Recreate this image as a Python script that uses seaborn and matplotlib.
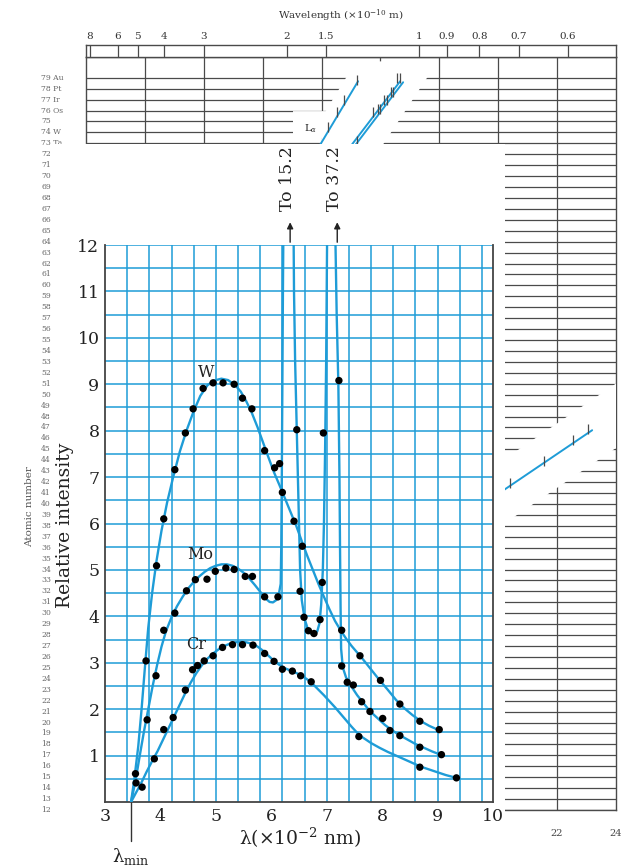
import numpy as np
import pandas as pd
import matplotlib
matplotlib.use("Agg")
import matplotlib.pyplot as plt
import seaborn as sns
from matplotlib.patches import Rectangle
from matplotlib.transforms import blended_transform_factory

# ---------------- data: main chart ----------------
w_pts_x = [3.55, 3.74, 3.93, 4.06, 4.26, 4.45, 4.59, 4.77, 4.95, 5.13, 5.33, 5.48, 5.65,
           5.88, 6.06, 6.15, 6.20, 6.41, 6.56, 6.92, 7.27, 7.60, 7.97, 8.32, 8.68, 9.03]
w_pts_y = [0.61, 3.04, 5.09, 6.10, 7.16, 7.95, 8.47, 8.91, 9.03, 9.03, 9.00, 8.70, 8.47,
           7.57, 7.20, 7.29, 6.67, 6.05, 5.51, 4.73, 3.70, 3.15, 2.62, 2.11, 1.74, 1.56]

mo_pts_x = [3.56, 3.76, 3.92, 4.06, 4.26, 4.47, 4.63, 4.84, 4.99, 5.18, 5.33, 5.53, 5.66,
            5.88, 6.12, 6.46, 6.52, 6.59, 6.67, 6.77, 6.88, 6.94, 7.22, 7.27, 7.37, 7.48,
            7.63, 7.78, 8.01, 8.14, 8.32, 8.68, 9.07]
mo_pts_y = [0.41, 1.77, 2.72, 3.70, 4.07, 4.55, 4.79, 4.80, 4.97, 5.04, 5.01, 4.86, 4.86,
            4.42, 4.42, 8.02, 4.54, 3.98, 3.69, 3.63, 3.93, 7.95, 9.08, 2.93, 2.58, 2.52,
            2.16, 1.95, 1.80, 1.54, 1.43, 1.18, 1.02]

cr_pts_x = [3.67, 3.89, 4.06, 4.23, 4.45, 4.58, 4.67, 4.79, 4.95, 5.12, 5.30, 5.48, 5.67,
            5.88, 6.05, 6.20, 6.38, 6.53, 6.72, 7.58, 8.68, 9.34]
cr_pts_y = [0.32, 0.93, 1.56, 1.82, 2.41, 2.85, 2.94, 3.04, 3.15, 3.33, 3.39, 3.39, 3.38,
            3.20, 3.03, 2.86, 2.82, 2.72, 2.59, 1.41, 0.75, 0.52]

# traced curves
w_cx = [3.47, 3.53, 3.60, 3.66, 3.72, 3.78, 3.85, 3.93, 4.02, 4.12, 4.23, 4.35, 4.47, 4.60,
        4.72, 4.85, 4.97, 5.10, 5.22, 5.35, 5.45, 5.55, 5.65, 5.75, 5.85, 5.95, 6.05,
        6.15, 6.25, 6.35, 6.45, 6.55, 6.65, 6.75, 6.85, 6.95, 7.05, 7.15, 7.25, 7.35, 7.45,
        7.55, 7.65, 7.75, 7.85, 7.95, 8.10, 8.25, 8.40, 8.55, 8.70, 8.85, 9.00]
w_cy = [0.00, 0.50, 1.20, 2.00, 2.90, 3.75, 4.50, 5.20, 5.85, 6.45, 7.00, 7.55, 8.00, 8.42,
        8.75, 8.98, 9.08, 9.12, 9.09, 8.98, 8.84, 8.63, 8.38, 8.08, 7.75, 7.42, 7.10,
        6.82, 6.53, 6.24, 5.95, 5.62, 5.30, 5.00, 4.70, 4.42, 4.15, 3.90, 3.70, 3.52, 3.36,
        3.22, 3.08, 2.93, 2.78, 2.63, 2.42, 2.20, 2.02, 1.87, 1.74, 1.64, 1.56]

mo_cx = [3.47, 3.55, 3.62, 3.70, 3.78, 3.86, 3.94, 4.02, 4.10, 4.20, 4.30, 4.40, 4.50, 4.60,
         4.70, 4.80, 4.90, 5.00, 5.10, 5.20, 5.30, 5.40, 5.50, 5.60, 5.70, 5.80, 5.90, 5.97,
         6.03, 6.09, 6.14, 6.17, 6.18, 6.19, 6.20, 6.21, 6.22, 6.40, 6.41, 6.43, 6.46, 6.49,
         6.52, 6.55, 6.60, 6.66, 6.72, 6.78, 6.83, 6.87, 6.90, 6.93, 6.95, 6.97, 6.99, 7.01,
         7.15, 7.18, 7.21, 7.23, 7.24, 7.25, 7.26, 7.29, 7.35, 7.45, 7.55, 7.65, 7.75, 7.85,
         7.95, 8.05, 8.15, 8.30, 8.45, 8.60, 8.75, 8.90, 9.05]
mo_cy = [0.00, 0.45, 0.95, 1.50, 2.00, 2.50, 2.95, 3.35, 3.68, 3.98, 4.22, 4.42, 4.60, 4.74,
         4.86, 4.96, 5.04, 5.09, 5.12, 5.12, 5.09, 5.03, 4.94, 4.82, 4.68, 4.53, 4.38, 4.31,
         4.30, 4.35, 4.50, 4.70, 5.50, 7.00, 9.00, 11.0, 12.6, 12.6, 11.0, 9.50, 8.00, 6.50,
         5.00, 4.35, 3.95, 3.72, 3.62, 3.60, 3.68, 3.85, 4.25, 5.00, 6.00, 7.50, 9.50, 12.6,
         12.6, 10.5, 9.00, 7.00, 5.50, 4.20, 3.30, 2.90, 2.68, 2.48, 2.30, 2.15, 2.00, 1.88,
         1.77, 1.66, 1.57, 1.45, 1.35, 1.25, 1.17, 1.09, 1.02]

cr_cx = [3.47, 3.55, 3.65, 3.75, 3.85, 3.95, 4.05, 4.15, 4.25, 4.35, 4.45, 4.55, 4.65, 4.75,
         4.85, 4.95, 5.05, 5.15, 5.25, 5.35, 5.45, 5.55, 5.65, 5.75, 5.85, 5.95, 6.05, 6.15,
         6.25, 6.35, 6.45, 6.55, 6.65, 6.75, 6.85, 6.95, 7.05, 7.15, 7.25, 7.35, 7.45, 7.55,
         7.65, 7.80, 7.95, 8.10, 8.25, 8.40, 8.55, 8.70, 8.85, 9.00, 9.15, 9.34]
cr_cy = [0.00, 0.18, 0.40, 0.65, 0.88, 1.10, 1.35, 1.60, 1.85, 2.10, 2.35, 2.58, 2.78, 2.95,
         3.09, 3.20, 3.29, 3.36, 3.41, 3.44, 3.45, 3.44, 3.41, 3.35, 3.26, 3.15, 3.04, 2.95,
         2.88, 2.83, 2.78, 2.72, 2.64, 2.54, 2.42, 2.30, 2.17, 2.04, 1.90, 1.76, 1.62, 1.49,
         1.39, 1.27, 1.17, 1.08, 1.00, 0.92, 0.84, 0.76, 0.70, 0.64, 0.58, 0.52]

series_labels = ["W", "Mo", "Cr"]
label_x = [4.82, 4.71, 4.65]
label_y = [9.26, 5.33, 3.39]

x_ticks = [3, 4, 5, 6, 7, 8, 9, 10]
y_ticks = [1, 2, 3, 4, 5, 6, 7, 8, 9, 10, 11, 12]
x_grid = [3.4, 3.8, 4.2, 4.6, 5.0, 5.4, 5.8, 6.2, 6.6, 7.0, 7.4, 7.8, 8.2, 8.6, 9.0, 9.4, 9.8]
y_grid = [0.5, 1, 1.5, 2, 2.5, 3, 3.5, 4, 4.5, 5, 5.5, 6, 6.5, 7, 7.5, 8, 8.5, 9, 9.5,
          10, 10.5, 11, 11.5, 12]
lambda_min = 3.47
off_scale = ["To 15.2", "To 37.2"]
off_scale_x = [6.34, 7.19]

# ---------------- data: background Moseley plot ----------------
rows_z = list(range(12, 80))
row_names = {79: "Au", 78: "Pt", 77: "Ir", 76: "Os", 74: "W", 73: "Ta"}
vgrid_u = [8, 10, 12, 14, 16, 18, 20, 22]
wl_labels = ["8", "6", "5", "4", "3", "2", "1.5", "1", "0.9", "0.8", "0.7", "0.6"]
wl_pos = [6.12, 7.07, 7.75, 8.66, 10.0, 12.83, 14.14, 17.32, 18.26, 19.36, 20.70, 22.36]
bottom_labels = ["22", "24"]
bottom_pos = [22, 24]

l1_u, l1_z = [13.76, 15.24], [72.0, 78.68]
l2_u, l2_z = [14.78, 16.67], [72.0, 78.68]
l3_u, l3_z = [14.91, 16.77], [72.0, 78.59]
t1_u = [15.20, 14.76, 14.52, 14.22]
t1_z = [78.77, 76.94, 75.84, 74.47]
t23_u = [16.56, 16.67, 16.36, 16.43, 16.12, 16.22, 15.92, 15.99, 15.75, 15.21]
t23_z = [78.95, 78.95, 77.67, 77.67, 76.94, 76.94, 76.12, 76.12, 75.84, 73.19]
low_u, low_z = [19.49, 23.19], [40.0, 46.75]
low_t_u = [20.40, 21.56, 22.54, 23.05]
low_t_z = [41.9, 43.9, 45.9, 46.9]
# breaks in the grid around the lines
top_gap_u = [14.0, 14.0, 13.03, 13.03, 14.14, 15.17, 17.95, 16.09]
top_gap_z = [72.9, 73.5, 73.5, 75.95, 75.95, 80.5, 80.5, 72.9]
low_gap_z = [36.0, 53.0]
low_gap_off = [-1.53, 1.70]

BLUE = "#1e9cd7"
GRAY = "#4a4a4a"

sns.set_style("white")
plt.rcParams["font.family"] = ["DejaVu Serif"]
plt.rcParams["mathtext.fontset"] = "dejavuserif"

FW, FH = 623, 866
fig = plt.figure(figsize=(FW / 100, FH / 100), dpi=100)


def box(l, t, r, b):
    return [l / FW, 1 - b / FH, (r - l) / FW, (b - t) / FH]


# ---------- background Moseley axes ----------
axm = fig.add_axes(box(86, 57, 616, 810))
axm.set_zorder(0)
axm.set_xlim(6, 24)
axm.set_ylim(12, 80.9)
for s in axm.spines.values():
    s.set_color(GRAY)
    s.set_linewidth(1.0)
axm.hlines(rows_z, 6, 24, color=GRAY, lw=0.9, zorder=2)
axm.vlines(vgrid_u, 12, 80.9, color=GRAY, lw=0.9, zorder=2)
axm.fill(top_gap_u, top_gap_z, color="white", lw=0, zorder=3)
slope = (low_u[1] - low_u[0]) / (low_z[1] - low_z[0])
lz = np.array(low_gap_z)
lu = low_u[0] + (lz - low_z[0]) * slope
axm.fill([lu[0] + low_gap_off[0], lu[1] + low_gap_off[0], lu[1] + low_gap_off[1], lu[0] + low_gap_off[1]],
         [lz[0], lz[1], lz[1], lz[0]], color="white", lw=0, zorder=3)
for uu, zz in [(l1_u, l1_z), (l2_u, l2_z), (l3_u, l3_z), (low_u, low_z)]:
    sns.lineplot(x=uu, y=zz, ax=axm, color=BLUE, lw=1.4, sort=False, estimator=None, zorder=4)
for uu, zz in [(t1_u, t1_z), (t23_u, t23_z), (low_t_u, low_t_z)]:
    axm.plot(uu, zz, ls="none", marker="|", ms=7, mew=0.9, color=GRAY, zorder=4)
axm.text(13.61, 74.38, r"L$_\alpha$", fontsize=7, ha="center", va="center", color="#222", zorder=5)
axm.set_yticks([])
axm.set_xticks(bottom_pos)
axm.set_xticklabels(bottom_labels)
axm.tick_params(axis="x", length=0, pad=14, labelsize=7, labelcolor="#444")
tr = blended_transform_factory(fig.transFigure, axm.transData)
for z in rows_z:
    lab = f"{z} {row_names[z]}" if z in row_names else f"{z}"
    axm.text(41 / FW, z, lab, transform=tr, fontsize=5.5, ha="left", va="center",
             color="#666", clip_on=False)

# top wavelength strip
axt = fig.add_axes(box(86, 45, 616, 57))
axt.set_zorder(0)
axt.set_xlim(6, 24)
axt.set_ylim(0, 1)
axt.vlines(wl_pos, 0, 1, color=GRAY, lw=0.9)
for s in axt.spines.values():
    s.set_color(GRAY)
    s.set_linewidth(1.0)
axt.set_yticks([])
axt.xaxis.tick_top()
axt.set_xticks(wl_pos)
axt.set_xticklabels(wl_labels)
axt.tick_params(axis="x", length=0, pad=3, labelsize=7.5, labelcolor="#333")
fig.text(341 / FW, 1 - 16 / FH, "Wavelength (×10$^{-10}$ m)", ha="center", va="center",
         fontsize=7.5, color="#333")
fig.text(30 / FW, 1 - 507 / FH, "Atomic number", rotation=90, ha="center", va="center",
         fontsize=7.5, color="#555")

# white cover under the main chart
fig.patches.append(Rectangle((52 / FW, 0), (505 - 52) / FW, 1 - 144 / FH,
                             transform=fig.transFigure, facecolor="white", edgecolor="none",
                             zorder=1))

# ---------- main chart ----------
ax = fig.add_axes(box(105, 245, 493, 802))
ax.set_zorder(2)
ax.set_facecolor("white")
ax.set_xlim(3, 10)
ax.set_ylim(0, 12)
ax.vlines(x_grid, 0, 12, color=BLUE, lw=1.1, zorder=1)
ax.hlines(y_grid, 3, 10, color=BLUE, lw=1.1, zorder=1)

curves = pd.concat([
    pd.DataFrame({"x": w_cx, "y": w_cy, "s": "W"}),
    pd.DataFrame({"x": mo_cx, "y": mo_cy, "s": "Mo"}),
    pd.DataFrame({"x": cr_cx, "y": cr_cy, "s": "Cr"}),
])
pts = pd.concat([
    pd.DataFrame({"x": w_pts_x, "y": w_pts_y, "s": "W"}),
    pd.DataFrame({"x": mo_pts_x, "y": mo_pts_y, "s": "Mo"}),
    pd.DataFrame({"x": cr_pts_x, "y": cr_pts_y, "s": "Cr"}),
])
sns.lineplot(data=curves, x="x", y="y", units="s", estimator=None, sort=False,
             color=BLUE, lw=1.7, ax=ax, zorder=3)
sns.scatterplot(data=pts, x="x", y="y", color="black", s=28, edgecolor="none",
                ax=ax, zorder=5, legend=False)

for lab, lx, ly in zip(series_labels, label_x, label_y):
    ax.text(lx, ly, lab, fontsize=11.5, ha="center", va="center", color="#222", zorder=6)

for txt, xx in zip(off_scale, off_scale_x):
    ax.annotate("", xy=(xx, 12.55), xytext=(xx, 12.0),
                arrowprops=dict(arrowstyle="-|>", color="#222", lw=1.0, mutation_scale=9),
                annotation_clip=False)
    ax.text(xx - 0.05, 13.44, txt, rotation=90, fontsize=12.5, ha="center", va="center",
            color="#222", clip_on=False)

ax.set_xticks(x_ticks)
ax.set_yticks(y_ticks)
ax.tick_params(direction="in", length=5, width=1, color="#333", labelsize=12.5,
               labelcolor="#222", pad=4)
ax.set_xlabel("")
ax.set_ylabel("")
ax.spines["top"].set_visible(False)
for k in ["left", "bottom", "right"]:
    ax.spines[k].set_color("#444")
    ax.spines[k].set_linewidth(1.3)

ax.plot([lambda_min, lambda_min], [0, -0.85], color="#333", lw=1.0, clip_on=False)
ax.text(lambda_min, -1.17, "λ$_{\\mathrm{min}}$", fontsize=13, ha="center", va="center",
        color="#222", clip_on=False)
ax.text(6.52, -0.78, "λ(×10$^{-2}$ nm)", fontsize=13.5, ha="center", va="center",
        color="#222", clip_on=False)
ax.text(2.28, 5.97, "Relative intensity", rotation=90, fontsize=13.5, ha="center", va="center",
        color="#222", clip_on=False)

fig.savefig("out.png", dpi=100, facecolor="white")
